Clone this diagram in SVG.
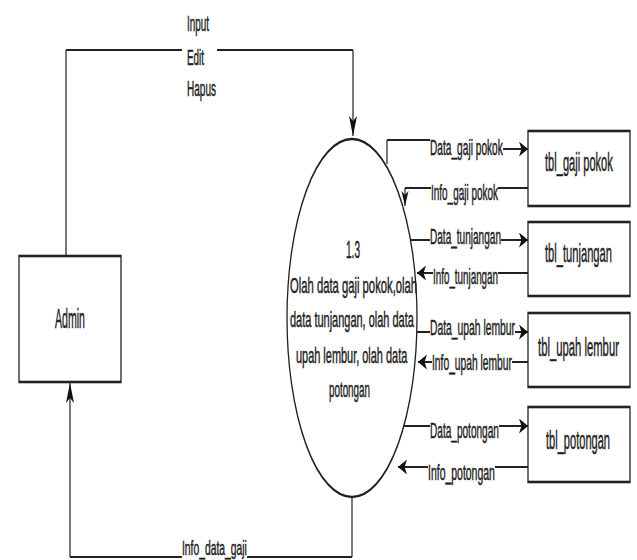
<svg xmlns="http://www.w3.org/2000/svg" width="637" height="560" viewBox="0 0 637 560">
<style>
text{font-family:"Liberation Sans",Arial,sans-serif;fill:#1e1e1e;stroke:#1e1e1e;stroke-width:0.5}
.lbl{font-size:21.5px}
.io{font-size:22px}
.tbl{font-size:25px}
.proc{font-size:22px}
.box{fill:#fff;stroke:#222;stroke-width:2.6}
.h{fill:none;stroke:#222;stroke-width:2.1}
.v{fill:none;stroke:#222;stroke-width:1.2}
</style>
<defs>
<marker id="ah" markerUnits="userSpaceOnUse" markerWidth="10" markerHeight="16" refX="9" refY="7.5" orient="auto">
<path d="M0,0 L9,7.5 L0,15 L2.5,7.5 Z" fill="#111"/>
</marker>
<marker id="av" markerUnits="userSpaceOnUse" markerWidth="20" markerHeight="9" refX="20" refY="4" orient="auto">
<path d="M0,0 L20,4 L0,8 L5,4 Z" fill="#111"/>
</marker>
<marker id="avs" markerUnits="userSpaceOnUse" markerWidth="15" markerHeight="8" refX="15" refY="3.5" orient="auto">
<path d="M0,0 L15,3.5 L0,7 L4,3.5 Z" fill="#111"/>
</marker>
</defs>
<rect width="637" height="560" fill="#fff"/>

<g id="connectors">
<path class="v" d="M66,256 V50"/>
<path class="h" d="M66,50 H182 M217,50 H353"/>
<path class="v" d="M353,50 V136" marker-end="url(#av)"/>
<path class="v" d="M352,497 V557"/>
<path class="h" d="M352,557 H247 M182,557 H70"/>
<path class="v" d="M70,557 V383" marker-end="url(#av)"/>
<path class="v" d="M387,164 V140"/>
<path class="h" d="M387,140 H430 M503,149 H528" marker-end="url(#ah)"/>
<path class="h" d="M528,188 H498 M431,188 H405"/>
<path class="v" d="M405,188 V206" marker-end="url(#avs)"/>
<path class="h" d="M411,240 H430 M501,240 H528" marker-end="url(#ah)"/>
<path class="h" d="M528,273 H498 M433,273 H417" marker-end="url(#ah)"/>
<path class="h" d="M417,332 H430 M515,332 H528" marker-end="url(#ah)"/>
<path class="h" d="M528,362 H512 M432,362 H418" marker-end="url(#ah)"/>
<path class="h" d="M404,426 H430 M499,426 H528" marker-end="url(#ah)"/>
<path class="h" d="M528,467 H495 M428,467 H398" marker-end="url(#ah)"/>
<text class="io" transform="translate(187,31) scale(0.450,1)">Input</text>
<text class="io" transform="translate(187,65) scale(0.449,1)">Edit</text>
<text class="io" transform="translate(187,96) scale(0.456,1)">Hapus</text>
<text font-size="20" transform="translate(182,555) scale(0.517,1)">Info_data_gaji</text>
<text class="lbl" transform="translate(430,155) scale(0.473,1)">Data_gaji pokok</text>
<text class="lbl" transform="translate(431,200) scale(0.463,1)">Info_gaji pokok</text>
<text class="lbl" transform="translate(430,244) scale(0.468,1)">Data_tunjangan</text>
<text class="lbl" transform="translate(433,284) scale(0.457,1)">Info_tunjangan</text>
<text class="lbl" transform="translate(430,335) scale(0.481,1)">Data_upah lembur</text>
<text class="lbl" transform="translate(432,370) scale(0.478,1)">Info_upah lembur</text>
<text class="lbl" transform="translate(430,438) scale(0.469,1)">Data_potongan</text>
<text class="lbl" transform="translate(428,480) scale(0.487,1)">Info_potongan</text>
</g>

<g id="admin">
<rect class="box" x="38" y="256" width="204" height="126" transform="scale(0.5,1)"/>
<text font-size="27" transform="translate(55,328) scale(0.392,1)">Admin</text>
</g>

<g id="process">
<ellipse cx="704" cy="318" rx="130" ry="179" transform="scale(0.5,1)" fill="#fff" stroke="#222" stroke-width="2.6"/>
<text font-size="24" transform="translate(346,258) scale(0.42,1)">1.3</text>
<text class="proc" transform="translate(290,293) scale(0.512,1)">Olah data gaji pokok,olah</text>
<text class="proc" transform="translate(290,327) scale(0.499,1)">data tunjangan, olah data</text>
<text class="proc" transform="translate(296,363) scale(0.497,1)">upah lembur, olah data</text>
<text class="proc" transform="translate(329,397) scale(0.447,1)">potongan</text>
</g>

<g id="tbl_gaji_pokok">
<rect class="box" x="1056" y="131" width="204" height="75" transform="scale(0.5,1)"/>
<text class="tbl" transform="translate(545,171) scale(0.444,1)">tbl_gaji pokok</text>
</g>
<g id="tbl_tunjangan">
<rect class="box" x="1056" y="222" width="204" height="74" transform="scale(0.5,1)"/>
<text class="tbl" transform="translate(545,262) scale(0.446,1)">tbl_tunjangan</text>
</g>
<g id="tbl_upah_lembur">
<rect class="box" x="1056" y="313" width="204" height="74" transform="scale(0.5,1)"/>
<text class="tbl" transform="translate(538,356) scale(0.452,1)">tbl_upah lembur</text>
</g>
<g id="tbl_potongan">
<rect class="box" x="1056" y="407" width="204" height="75" transform="scale(0.5,1)"/>
<text class="tbl" transform="translate(546,449) scale(0.443,1)">tbl_potongan</text>
</g>
</svg>
